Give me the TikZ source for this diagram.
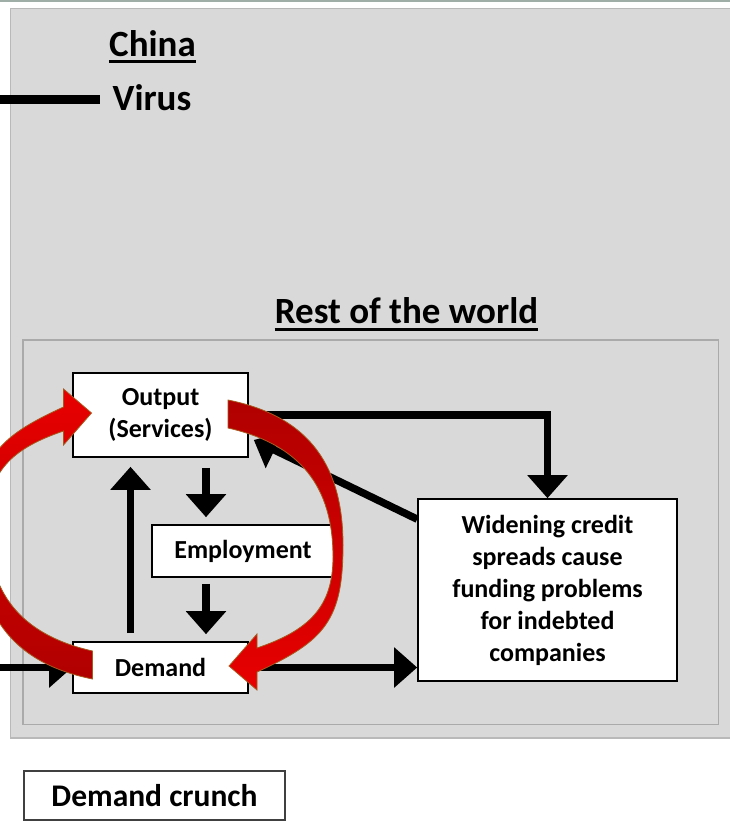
\documentclass[tikz,border=0pt]{standalone}
\usepackage{fontspec}
\setmainfont{Carlito}
\usetikzlibrary{arrows.meta}
\definecolor{bggray}{RGB}{217,217,217}
\definecolor{outerline}{RGB}{185,185,185}
\definecolor{innerline}{RGB}{170,170,170}
\definecolor{topline}{RGB}{160,174,168}
\definecolor{rdark}{RGB}{176,0,0}
\definecolor{rbright}{RGB}{232,0,0}
\definecolor{redline}{RGB}{168,90,30}
\definecolor{crunchline}{RGB}{64,64,64}
\newcommand\myBodyFont{\bfseries\fontsize{26}{32}\selectfont}
\newcommand\myTitleFont{\bfseries\fontsize{37}{44}\selectfont}
\newcommand\myCrunchFont{\bfseries\fontsize{31.5}{38}\selectfont}
\tikzset{
  box/.style={draw=black, line width=1.6pt, fill=white, inner sep=0pt, align=center, font=\myBodyFont},
  crunchbox/.style={draw=crunchline, line width=1.2pt, fill=white, inner sep=0pt, align=center, font=\myCrunchFont},
  blk/.style={line width=7.5pt, -{Triangle[width=39pt,length=23pt]}},
  titletext/.style={inner sep=0pt, font=\myTitleFont, anchor=base},
  redarr/.style={draw=redline, line width=0.8pt, line join=miter},
}
\begin{document}
\begin{tikzpicture}[x=1pt, y=-1pt]
\useasboundingbox (0,0) rectangle (730,822);
% top rule
\draw[topline, line width=1.6pt] (0,0.8) -- (730,0.8);
% China region
\path[fill=bggray, draw=outerline, line width=1.8pt] (10.5,8.5) rectangle (745,738);
% Rest of the world region
\path[fill=bggray, draw=innerline, line width=1.1pt] (23,340) rectangle (718.5,724.5);
% titles
\node[titletext] (china) at (152.5,56.7) {China};
\draw[line width=2.4pt] ([yshift=-4.6pt]china.base west) -- ([yshift=-4.6pt]china.base east);
\node[titletext, inner xsep=12pt] (virus) at (152,110) {Virus};
\coordinate (vstart) at (0,99.5);
\draw[line width=8.5pt] (vstart) -- (vstart -| virus.west);
\node[titletext] (rest) at (406.5,323.3) {Rest of the world};
\draw[line width=3.2pt] ([yshift=-6.5pt]rest.base west) -- ([yshift=-6.5pt]rest.base east);
% boxes
\node[box, minimum width=175pt, minimum height=84pt] (out) at (160.5,415) {Output\\(Services)};
\node[box, minimum width=182pt, minimum height=52pt] (emp) at (243,551) {Employment};
\node[box, minimum width=175pt, minimum height=51pt] (dem) at (160.5,667.5) {Demand};
\node[box, minimum width=259pt, minimum height=182pt] (wid) at (547.5,590) {Widening credit\\spreads cause\\funding problems\\for indebted\\companies};
\node[crunchbox, minimum width=261pt, minimum height=49pt] (cr) at (154.5,795.5) {Demand crunch};
% black arrows
\draw[blk] (out.east) -| (wid.north);
\draw[blk] ([yshift=-21pt]wid.north west) -- ([xshift=5pt,yshift=-25pt]out.east);
\draw[blk] ([xshift=45.5pt,yshift=-10pt]out.south) -- ([xshift=-37pt,yshift=7pt]emp.north);
\draw[blk] ([xshift=-37pt,yshift=-6pt]emp.south) -- ([xshift=45.5pt,yshift=7pt]dem.north);
\draw[blk] ([xshift=-30pt,yshift=8pt]dem.north) -- ([xshift=-30pt,yshift=-9pt]out.south);
\draw[blk] (dem.east) -- (dem.east -| wid.west);
\coordinate (lin) at (0,667.5);
\draw[blk] (lin) -- (dem.west);
% red curved arrows
\shadedraw[redarr, top color=rdark, middle color=rdark!50!rbright, bottom color=rbright]
  (228,400) .. controls (313,417) and (343,470) .. (343,545)
  .. controls (343,620) and (325,641) .. (257,672)
  -- (257,690) -- (229,666) -- (257,634) -- (257,648)
  .. controls (309,630.4) and (333,607) .. (333,557)
  .. controls (333,487) and (300.75,444.5) .. (228,428) -- cycle;
\shadedraw[redarr, top color=rbright, middle color=rdark!50!rbright, bottom color=rdark]
  (92.5,679) .. controls (7.5,662) and (-22.5,609) .. (-22.5,534)
  .. controls (-22.5,459) and (-4.5,438) .. (63.5,407)
  -- (63.5,389) -- (91.5,413) -- (63.5,445) -- (63.5,431)
  .. controls (11.5,448.6) and (-12.5,472) .. (-12.5,522)
  .. controls (-12.5,592) and (19.75,634.5) .. (92.5,651) -- cycle;
\end{tikzpicture}
\end{document}
